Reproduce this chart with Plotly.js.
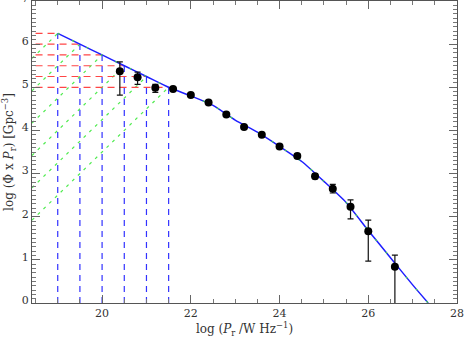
<!DOCTYPE html>
<html><head><meta charset="utf-8">
<script src="https://cdn.plot.ly/plotly-3.0.1.min.js"></script>
<style>html,body{margin:0;padding:0;background:#fff}#c{width:464px;height:339px}</style>
</head><body><div id="c"></div>
<script>
// Data points (log P_r, log(Phi x P_r)) with asymmetric errors
const ptX = [20.4, 20.8, 21.2, 21.6, 22.0, 22.4, 22.8, 23.2, 23.6, 24.0, 24.4, 24.8, 25.2, 25.6, 26.0, 26.6];
const ptY = [5.37, 5.23, 4.99, 4.96, 4.82, 4.65, 4.37, 4.08, 3.90, 3.63, 3.41, 2.94, 2.65, 2.23, 1.66, 0.84];
const errUp = [0.22, 0.12, 0.08, 0.03, 0.03, 0.03, 0.03, 0.03, 0.03, 0.03, 0.04, 0.06, 0.10, 0.16, 0.26, 0.27];
const errDn = [0.55, 0.16, 0.11, 0.03, 0.03, 0.03, 0.03, 0.03, 0.03, 0.03, 0.04, 0.06, 0.10, 0.28, 0.69, 0.90];

// Fitted curve
const fitX = [19, 19.5, 20, 20.5, 21, 21.5, 22, 22.5, 23, 23.5, 24, 24.5, 25, 25.5, 26, 26.5, 27, 27.35];
const fitY = [6.25, 6.0, 5.75, 5.5, 5.25, 5.0, 4.80, 4.58, 4.24, 3.96, 3.63, 3.28, 2.82, 2.33, 1.68, 1.05, 0.42, 0];

// Marked knots for construction lines
const knotX = [19, 19.5, 20, 20.5, 21, 21.5];
const knotY = [6.25, 6.0, 5.75, 5.5, 5.25, 5.0];

// Axis tick labels
const xTicks = [20, 22, 24, 26, 28];
const yTicks = [0, 1, 2, 3, 4, 5, 6, 7];

const xLeft = 18.42, redStart = 18.5;
const traces = [];
knotX.forEach((kx, i) => {
  const ky = knotY[i];
  traces.push({x: [redStart, kx], y: [ky, ky], mode: 'lines', line: {color: 'rgb(255,70,70)', width: 1.2, dash: '7px,5px'}, hoverinfo: 'skip'});
  traces.push({x: [kx, kx], y: [0, ky], mode: 'lines', line: {color: 'rgb(50,50,255)', width: 1.2, dash: '6px,5px'}, hoverinfo: 'skip'});
  traces.push({x: [xLeft, kx], y: [ky - (kx - xLeft), ky], mode: 'lines', line: {color: 'rgb(80,235,80)', width: 1.2, dash: '3px,5px'}, hoverinfo: 'skip'});
});
traces.push({x: fitX, y: fitY, mode: 'lines', line: {color: 'rgb(30,30,255)', width: 1.5, shape: 'spline', smoothing: 0.6}});
traces.push({x: fitX, y: fitY, mode: 'lines', line: {color: 'rgb(70,220,70)', width: 1.2, dash: '2px,14px', shape: 'spline', smoothing: 0.6}});
traces.push({x: ptX, y: ptY, mode: 'markers', marker: {color: '#000', size: 8},
  error_y: {type: 'data', symmetric: false, array: errUp, arrayminus: errDn, color: '#111', thickness: 1.2, width: 3}});

const axCommon = {
  showgrid: false, zeroline: false, showline: true, linecolor: '#555', linewidth: 1,
  mirror: 'allticks', ticks: 'inside', ticklen: 8, tickcolor: '#666', tickwidth: 1,
  ticklabeloverflow: 'allow',
  tickfont: {family: 'DejaVu Serif, serif', size: 11, color: '#333'}
};
const layout = {
  width: 464, height: 339, showlegend: false,
  margin: {l: 32, r: 7, t: 1, b: 35.5},
  paper_bgcolor: '#fff', plot_bgcolor: '#fff',
  xaxis: Object.assign({}, axCommon, {range: [xLeft, 28], tickmode: 'array', tickvals: xTicks, ticktext: xTicks.map(String),
    minor: {dtick: 0.5, tick0: 18, ticks: 'inside', ticklen: 4, tickcolor: '#777'},
    title: {text: 'log (<i>P</i><sub>r</sub> /W Hz<sup>\u22121</sup>)', standoff: 4, font: {family: 'DejaVu Serif, serif', size: 12, color: '#333'}}}),
  yaxis: Object.assign({}, axCommon, {range: [-0.0005, 7.0005], tickmode: 'array', tickvals: yTicks, ticktext: yTicks.map(String),
    ticklabelshift: -3,
    minor: {dtick: 0.1, tick0: 0, ticks: 'inside', ticklen: 4, tickcolor: '#777'},
    title: {text: 'log (\u03a6 x <i>P</i><sub>r</sub>) [Gpc<sup>\u22123</sup>]', standoff: 6, font: {family: 'DejaVu Serif, serif', size: 12, color: '#333'}}})
};
Plotly.newPlot('c', traces, layout, {staticPlot: true, displayModeBar: false});
</script></body></html>
